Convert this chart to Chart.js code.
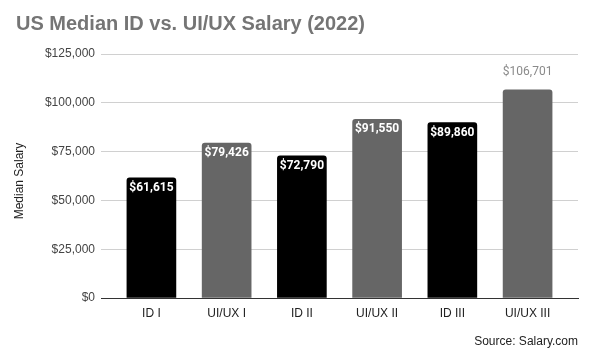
<!DOCTYPE html>
<html>
<head>
<meta charset="utf-8">
<script src="https://cdn.jsdelivr.net/npm/chart.js@4.4.0/dist/chart.umd.min.js"></script>
<style>
  html, body { margin: 0; padding: 0; background: #ffffff; }
  #wrap { width: 593px; height: 363px; position: relative; }
</style>
</head>
<body>
<div id="wrap"><canvas id="c" width="593" height="363"></canvas></div>
<script>
const chartTitle = 'US Median ID vs. UI/UX Salary (2022)';
const yAxisTitle = 'Median Salary';
const sourceText = 'Source: Salary.com';
const categories = ['ID I', 'UI/UX I', 'ID II', 'UI/UX II', 'ID III', 'UI/UX III'];
const salaries = [61615, 79426, 72790, 91550, 89860, 106701];
const barColors = ['#000000', '#666666', '#000000', '#666666', '#000000', '#666666'];
const labelPlacement = ['inside', 'inside', 'inside', 'inside', 'inside', 'outside'];
const yTicks = [0, 25000, 50000, 75000, 100000, 125000];

const fmt = v => '$' + Number(v).toLocaleString('en-US');
const baseFont = "Arial, 'Liberation Sans', sans-serif";

const textPlugin = {
  id: 'texts',
  afterDatasetsDraw(chart) {
    const ctx = chart.ctx;
    const meta = chart.getDatasetMeta(0);
    ctx.save();
    meta.data.forEach((bar, i) => {
      const label = fmt(salaries[i]);
      ctx.textAlign = 'center';
      ctx.textBaseline = 'middle';
      if (labelPlacement[i] === 'inside') {
        ctx.font = "bold 12px Roboto, 'Noto Sans', sans-serif";
        ctx.fillStyle = '#ffffff';
        ctx.fillText(label, bar.x, bar.y + 10);
      } else {
        ctx.font = "12px Roboto, 'Noto Sans', sans-serif";
        ctx.fillStyle = '#8a8a8a';
        ctx.fillText(label, bar.x, bar.y - 18);
      }
    });
    ctx.restore();
  },
  afterDraw(chart) {
    const ctx = chart.ctx;
    ctx.save();
    ctx.font = 'bold 20px ' + baseFont;
    ctx.fillStyle = '#757575';
    ctx.textAlign = 'left';
    ctx.textBaseline = 'alphabetic';
    ctx.fillText(chartTitle, 16, 30);

    ctx.font = '12px ' + baseFont;
    ctx.fillStyle = '#222222';
    ctx.textAlign = 'right';
    ctx.textBaseline = 'middle';
    ctx.fillText(sourceText, 578, 342);

    ctx.translate(19.5, 181);
    ctx.rotate(-Math.PI / 2);
    ctx.textAlign = 'center';
    ctx.textBaseline = 'middle';
    ctx.fillText(yAxisTitle, 0, 0);
    ctx.restore();
  }
};

new Chart(document.getElementById('c'), {
  type: 'bar',
  data: {
    datasets: [{
      data: salaries.map((v, i) => ({ x: i, y: v })),
      backgroundColor: barColors,
      borderRadius: 3,
      borderSkipped: 'bottom',
      barThickness: 49
    }]
  },
  options: {
    responsive: false,
    animation: false,
    events: [],
    layout: { padding: { left: 0, top: 54, right: 15, bottom: 0 } },
    plugins: { legend: { display: false }, tooltip: { enabled: false }, title: { display: false } },
    scales: {
      x: {
        type: 'linear',
        offset: false,
        min: -0.67,
        max: 5.67,
        afterBuildTicks: s => { s.ticks = categories.map((_, i) => ({ value: i })); },
        afterFit: s => { s.height = 65; },
        grid: { display: false, drawTicks: false, offset: false },
        border: { display: true, color: '#333333', width: 1 },
        ticks: {
          callback: v => categories[v],
          font: { family: baseFont, size: 12 },
          color: '#222222',
          padding: 8,
          autoSkip: false,
          maxRotation: 0
        }
      },
      y: {
        min: 0,
        max: 125000,
        afterBuildTicks: s => { s.ticks = yTicks.map(v => ({ value: v })); },
        afterFit: s => { s.width = 101; },
        grid: { color: '#d0d0d0', drawTicks: false, lineWidth: 1 },
        border: { display: false },
        ticks: {
          callback: v => fmt(v),
          font: { family: baseFont, size: 12 },
          color: '#444444',
          padding: 6
        }
      }
    }
  },
  plugins: [textPlugin]
});
</script>
</body>
</html>
